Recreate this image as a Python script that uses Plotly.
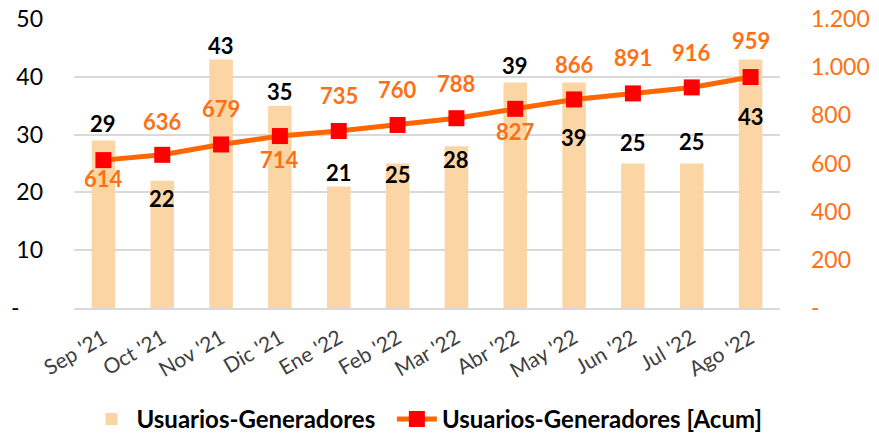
import plotly.graph_objects as go

months = ["Sep '21", "Oct '21", "Nov '21", "Dic '21", "Ene '22", "Feb '22",
          "Mar '22", "Abr '22", "May '22", "Jun '22", "Jul '22", "Ago '22"]
usuarios = [29, 22, 43, 35, 21, 25, 28, 39, 39, 25, 25, 43]
acumulado = [614, 636, 679, 714, 735, 760, 788, 827, 866, 891, 916, 959]

left_ticks = [0, 10, 20, 30, 40, 50]
left_ticktext = ["-\u00a0\u00a0\u00a0\u00a0", "10", "20", "30", "40", "50"]
right_ticks = [0, 200, 400, 600, 800, 1000, 1200]
right_ticktext = ["-", "200", "400", "600", "800", "1.000", "1.200"]

# label offsets in pixels relative to the data point (positive = up)
bar_label_shift = [17, -18, 14, 14, 14, -11, -13, 17, -55, 21, 22, -57]
line_label_shift = [-18, 33, 36, -23, 35, 35, 35, -23, 35, 36, 35, 37]

BAR = "#FCD5A5"
LINE = "#FF6600"
ORANGE_TXT = "#FF7014"
FONT = "Lato"

fig = go.Figure()
fig.add_trace(go.Bar(
    x=months, y=usuarios, name="Usuarios-Generadores\u00a0\u00a0",
    marker=dict(color=BAR, line=dict(width=0)), yaxis="y",
))
fig.add_trace(go.Scatter(
    x=months, y=acumulado, name="Usuarios-Generadores [Acum]",
    mode="lines+markers", yaxis="y2",
    line=dict(color=LINE, width=5),
    marker=dict(symbol="square", size=16, color="#FF0000"),
))

annotations = []
for m, v, s in zip(months, usuarios, bar_label_shift):
    annotations.append(dict(x=m, y=v, xref="x", yref="y", text=str(v),
                            showarrow=False, yshift=s,
                            font=dict(family=FONT, size=22, color="#000000", weight="bold")))
for m, v, s in zip(months, acumulado, line_label_shift):
    annotations.append(dict(x=m, y=v, xref="x", yref="y2", text=str(v),
                            showarrow=False, yshift=s,
                            font=dict(family=FONT, size=22, color=ORANGE_TXT, weight="bold")))

fig.update_layout(
    width=879, height=442,
    margin=dict(l=74, r=99, t=19, b=134, autoexpand=False),
    paper_bgcolor="white", plot_bgcolor="white",
    font=dict(family=FONT),
    bargap=0.6,
    showlegend=True,
    legend=dict(orientation="h", x=0.5, xanchor="center",
                yref="container", y=0.0, yanchor="bottom",
                font=dict(family=FONT, size=24, color="#000000", weight="bold"),
                itemwidth=40, traceorder="normal"),
    xaxis=dict(range=[-0.5, len(months) - 0.5],
               tickangle=-30, tickfont=dict(family=FONT, size=21, color="#404040"),
               showgrid=False, showline=True, linecolor="#D9D9D9", linewidth=1.5,
               ticks="", automargin=False, ticklabelstandoff=8),
    yaxis=dict(range=[0, 50], tickvals=left_ticks, ticktext=left_ticktext,
               tickfont=dict(family=FONT, size=23, color="#000000"),
               showgrid=True, gridcolor="#D9D9D9", gridwidth=1.5,
               zeroline=False, ticklabelstandoff=30, automargin=False),
    yaxis2=dict(range=[0, 1200], tickvals=right_ticks, ticktext=right_ticktext,
                overlaying="y", side="right",
                tickfont=dict(family=FONT, size=23, color=ORANGE_TXT),
                showgrid=False, zeroline=False, ticklabelstandoff=30, automargin=False),
    annotations=annotations,
)

fig.write_html("out.html", config={"displayModeBar": False},
               post_script="document.body.style.margin='0';document.body.style.overflow='hidden';")
